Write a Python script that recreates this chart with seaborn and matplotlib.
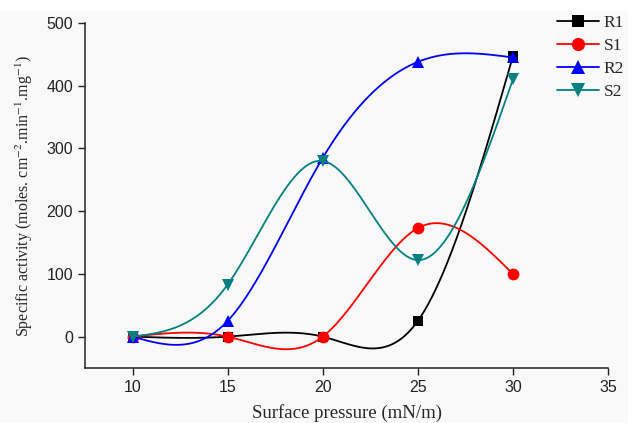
import numpy as np
import pandas as pd
import matplotlib
matplotlib.use("Agg")
import matplotlib.pyplot as plt
from matplotlib.lines import Line2D
import seaborn as sns

# ---- data ----
pressure = [10, 15, 20, 25, 30]
R1 = [0, 0, 0, 25, 447]
S1 = [0, 0, 0, 173, 100]
R2 = [0, 25, 285, 438, 445]
S2 = [0, 83, 280, 122, 410]
series_names = ["R1", "S1", "R2", "S2"]
x_ticks = [10, 15, 20, 25, 30, 35]
y_ticks = [0, 100, 200, 300, 400, 500]

colors = {"R1": "#000000", "S1": "#ff0000", "R2": "#0000ff", "S2": "#008080"}
markers = {"R1": "s", "S1": "o", "R2": "^", "S2": "v"}
msizes = {"R1": 7.5, "S1": 8.5, "R2": 8.5, "S2": 8.5}


def natural_spline(x, y, n=300):
    x = np.asarray(x, float)
    y = np.asarray(y, float)
    k = len(x)
    h = np.diff(x)
    A = np.zeros((k, k))
    b = np.zeros(k)
    A[0, 0] = 1
    A[-1, -1] = 1
    for i in range(1, k - 1):
        A[i, i - 1] = h[i - 1]
        A[i, i] = 2 * (h[i - 1] + h[i])
        A[i, i + 1] = h[i]
        b[i] = 3 * ((y[i + 1] - y[i]) / h[i] - (y[i] - y[i - 1]) / h[i - 1])
    c = np.linalg.solve(A, b)
    xs = np.linspace(x[0], x[-1], n)
    ys = np.empty_like(xs)
    for j, xv in enumerate(xs):
        i = min(np.searchsorted(x, xv, side="right") - 1, k - 2)
        bi = (y[i + 1] - y[i]) / h[i] - h[i] * (2 * c[i] + c[i + 1]) / 3
        di = (c[i + 1] - c[i]) / (3 * h[i])
        dx = xv - x[i]
        ys[j] = y[i] + bi * dx + c[i] * dx ** 2 + di * dx ** 3
    return xs, ys


sns.set_style("ticks")
plt.rcParams["font.family"] = ["Liberation Serif", "DejaVu Serif"]
plt.rcParams["mathtext.fontset"] = "stix"

bg = "#f9f9f9"
fig = plt.figure(figsize=(6.28, 4.23), dpi=100, facecolor=bg)
# white strip along the top edge, as in the reference
fig.patches.append(plt.Rectangle((0, 1 - 10 / 423), 1, 10 / 423,
                                 transform=fig.transFigure, facecolor="white",
                                 edgecolor="none", zorder=-10))
ax = fig.add_axes([85 / 628, 55 / 423, 523 / 628, 345 / 423])
ax.set_facecolor(bg)

data = {"R1": R1, "S1": S1, "R2": R2, "S2": S2}
handles = []
for name in series_names:
    xs, ys = natural_spline(pressure, data[name])
    curve = pd.DataFrame({"x": xs, "y": ys})
    pts = pd.DataFrame({"x": pressure, "y": data[name]})
    sns.lineplot(data=curve, x="x", y="y", ax=ax, color=colors[name],
                 linewidth=1.3, sort=False, estimator=None)
    ax.plot(pts["x"], pts["y"], linestyle="none", marker=markers[name],
            markersize=msizes[name], color=colors[name], markeredgewidth=0)
    handles.append(Line2D([], [], color=colors[name], linewidth=1.3,
                          marker=markers[name], markersize=msizes[name] + 1,
                          markeredgewidth=0, label=name))

ax.set_xlim(7.5, 35)
ax.set_ylim(-50, 500)
ax.set_xticks(x_ticks)
ax.set_yticks(y_ticks)
for lab in ax.get_xticklabels() + ax.get_yticklabels():
    lab.set_fontfamily("Liberation Sans")
    lab.set_fontsize(11.5)
ax.tick_params(direction="out", length=5, width=1, colors="#222222")
for s in ["left", "bottom"]:
    ax.spines[s].set_linewidth(1.1)
    ax.spines[s].set_color("#222222")
sns.despine(ax=ax)

ax.set_xlabel("Surface pressure (mN/m)", fontsize=13.5, labelpad=7)
ax.set_ylabel(r"Specific activity (moles. cm$^{-2}$.min$^{-1}$.mg$^{-1}$)",
              fontsize=11.5, labelpad=8)

fig.legend(handles=handles, loc="upper left", bbox_to_anchor=(550 / 628, 1 - 8 / 423),
           frameon=False, fontsize=12.5, handlelength=2.4, labelspacing=0.4,
           handletextpad=0.3, borderaxespad=0)

fig.savefig("out.png", dpi=100, facecolor=bg)
